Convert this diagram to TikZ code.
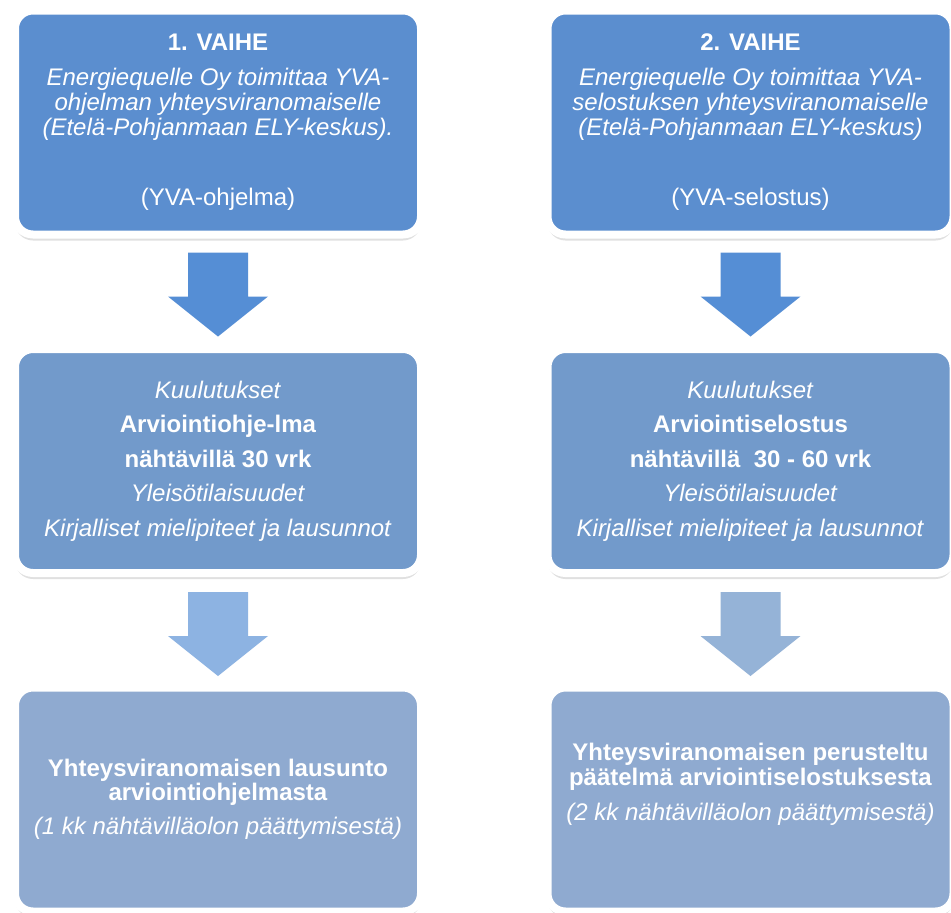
\documentclass[tikz,border=0pt]{standalone}
\usepackage{fontspec}
\setmainfont{Liberation Sans}
\usetikzlibrary{shadows,calc}
\definecolor{topblue}{HTML}{5B8ECF}
\definecolor{midblue}{HTML}{729ACB}
\definecolor{botblue}{HTML}{8FAAD0}
\definecolor{arrA}{HTML}{558ED5}
\definecolor{arrB}{HTML}{8DB3E2}
\definecolor{arrC}{HTML}{95B3D7}
\begin{document}
\begin{tikzpicture}[x=1pt,y=-1pt,
  box/.style={draw=white, line width=8pt, rounded corners=18pt,
    minimum width=406pt, minimum height=224pt, inner sep=0pt,
    text=white, align=center, font=\fontsize{24}{25}\selectfont,
    drop shadow={shadow xshift=0pt, shadow yshift=-6pt, opacity=0.12, fill=black},
    drop shadow={shadow xshift=0pt, shadow yshift=-3pt, opacity=0.08, fill=black}},
  midtext/.style={font=\fontsize{24}{34.5}\selectfont},
  downarrow/.pic={\fill[pic actions] (-30,0) -- (30,0) -- (30,44) -- (50,44) -- (0,84) -- (-50,44) -- (-30,44) -- cycle;}
]
\useasboundingbox (0,0) rectangle (951,913);
\fill[white] (0,0) rectangle (951,913);

% top boxes
\node[box, fill=topblue] (tl) at (218,122.5)
  {\textbf{1. VAIHE}\\[10pt]
   \textit{Energiequelle Oy toimittaa YVA-}\\
   \textit{ohjelman yhteysviranomaiselle}\\
   \textit{(Etelä-Pohjanmaan ELY-keskus).}\\[45pt]
   (YVA-ohjelma)};
\node[box, fill=topblue] (tr) at (750.5,122.5)
  {\textbf{2. VAIHE}\\[10pt]
   \textit{Energiequelle Oy toimittaa YVA-}\\
   \textit{selostuksen yhteysviranomaiselle}\\
   \textit{(Etelä-Pohjanmaan ELY-keskus)}\\[45pt]
   (YVA-selostus)};

% middle boxes
\node[box, midtext, fill=midblue] (ml) at (218,461)
  {\textit{Kuulutukset}\\
   \textbf{Arviointiohje-lma}\\
   \textbf{nähtävillä 30 vrk}\\
   \textit{Yleisötilaisuudet}\\
   \textit{Kirjalliset mielipiteet ja lausunnot}};
\node[box, midtext, fill=midblue] (mr) at (750.5,461)
  {\textit{Kuulutukset}\\
   \textbf{Arviointiselostus}\\
   \textbf{nähtävillä\ \ 30 - 60 vrk}\\
   \textit{Yleisötilaisuudet}\\
   \textit{Kirjalliset mielipiteet ja lausunnot}};

% bottom boxes
\node[box, fill=botblue] (bl) at (218,799.5)
  {\textbf{Yhteysviranomaisen lausunto}\\[-1pt]
   \textbf{arviointiohjelmasta}\\[9pt]
   \textit{(1 kk nähtävilläolon päättymisestä)}};
\node[box, fill=botblue] (br) at (750.5,799.5)
  {\textbf{Yhteysviranomaisen perusteltu}\\
   \textbf{päätelmä arviointiselostuksesta}\\[10pt]
   \textit{(2 kk nähtävilläolon päättymisestä)}\\[11pt]\mbox{}};

% arrows
\coordinate (a1) at ($(tl.south)+(0,14)$);
\coordinate (a2) at ($(tr.south)+(0,14)$);
\coordinate (a3) at ($(ml.south)+(0,15)$);
\coordinate (a4) at ($(mr.south)+(0,15)$);
\pic[fill=arrA] at (a1) {downarrow};
\pic[fill=arrA] at (a2) {downarrow};
\pic[fill=arrB] at (a3) {downarrow};
\pic[fill=arrC] at (a4) {downarrow};
\end{tikzpicture}
\end{document}
